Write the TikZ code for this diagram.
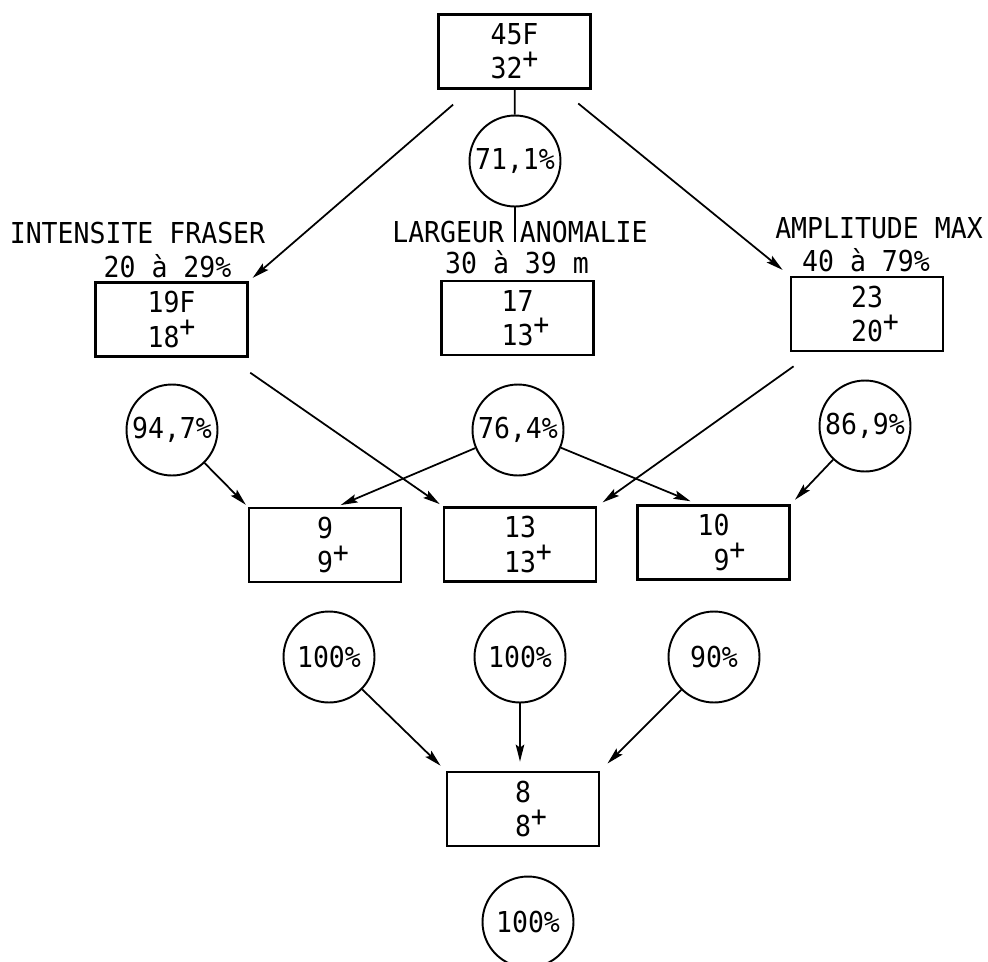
\documentclass[tikz,border=0pt]{standalone}
\usepackage{fontspec}
\usepackage{tikz}
\usetikzlibrary{arrows.meta}
\newfontfamily\printfont[FakeStretch=0.92]{DejaVu Sans Mono}
\newcommand{\rplus}{\rlap{\smash{\raisebox{6pt}{+}}}}

\begin{document}
\begin{tikzpicture}[x=0.02cm, y=-0.02cm,
	font=\printfont\fontsize{16.4}{19.5}\selectfont,
	cell/.style={draw, line width=1.6pt, minimum width=3.04cm, minimum height=1.48cm, align=center, inner sep=0pt},
	rate/.style={draw, circle, line width=1.1pt, minimum size=1.82cm, inner sep=0pt},
	link/.style={line width=1pt, -{Stealth[length=3.4mm,width=1.7mm,inset=0.6mm]}}]
			\useasboundingbox (0,0) rectangle (988,961);
			
			% boxes
			\node[cell] (top) at (514.5,51.5) {45F\\32\rplus\phantom{F}};
			\node[cell] (b19) at (171.5,319.5) {19F\\18\rplus\phantom{F}};
			\node[cell] (b17) at (517.5,318) {17\\13\rplus};
			\node[cell] (b23) at (867,314) {23\\20\rplus};
			\node[cell] (b9) at (325,545) {9\\9\rplus};
			\node[cell] (b13) at (520,544.5) {13\\13\rplus};
			\node[cell] (b10) at (713.5,542.5) {10\\\phantom{1}9\rplus};
			\node[cell] (b8) at (523,809) {8\\8\rplus};
			
			% labels
			\node[anchor=base] (int1) at (137.5,243) {INTENSITE FRASER};
			\node[anchor=base] (int2) at (167.5,277) {20 à 29\%};
			\node[anchor=base] (lar1) at (520,242) {LARGEUR ANOMALIE};
			\node[anchor=base] (lar2) at (517,273) {30 à 39 m};
			\node[anchor=base] (amp1) at (879,238) {AMPLITUDE MAX};
			\node[anchor=base] (amp2) at (866,271) {40 à 79\%};
			
			% percentages
			\node[rate] (c711) at (515,161) {71,1\%};
			\node[rate] (c947) at (172,430) {94,7\%};
			\node[rate] (c764) at (518,430) {76,4\%};
			\node[rate] (c869) at (865,426) {86,9\%};
			\node[rate] (c100a) at (329,657) {100\%};
			\node[rate] (c100b) at (520,657) {100\%};
			\node[rate] (c90) at (714,657) {90\%};
			\node[rate] (c100) at (528,922) {100\%};
			
			\draw[line width=1pt] (top) -- (c711);
			\draw[line width=1pt] (c711) -- (c711 |- lar1.base);
			\draw[link, shorten <=0.45cm, shorten >=0.1cm] (top) -- (b19.north east);
			\draw[link, shorten <=0.43cm, shorten >=0.18cm] (top) -- (b23.north west);
			
			\draw[link, shorten <=0.52cm, shorten >=0.07cm] ([xshift=-0.4cm]b19.south east) -- (b13.north west);
			\draw[link, shorten <=0.48cm, shorten >=0.13cm] ([xshift=0.47cm]b23.south west) -- (b13.north east);
			\draw[link, shorten >=0.08cm] (c764) -- ([xshift=0.24cm]b9.north);
			\draw[link, shorten >=0.15cm] (c764) -- ([xshift=-0.32cm]b10.north);
			\draw[link, shorten >=0.05cm] (c947) -- (b9.north west);
			\draw[link, shorten >=0.12cm] (c869) -- (b10.north east);
			
			\draw[link, shorten >=0.14cm] (c100a) -- (b8.north west);
			\draw[link, shorten >=0.18cm] (c100b) -- (c100b |- b8.north);
			\draw[link, shorten >=0.2cm] (c90) -- (b8.north east);
		\end{tikzpicture}
\end{document}
